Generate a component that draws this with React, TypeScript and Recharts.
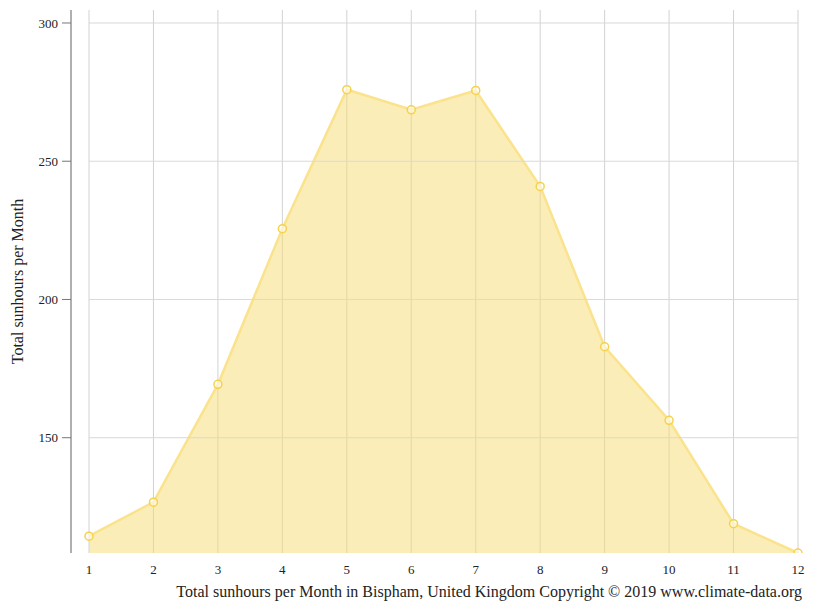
import React from "react";
import { AreaChart, Area, XAxis, YAxis, CartesianGrid, ReferenceLine, Label } from "recharts";

const months = [1, 2, 3, 4, 5, 6, 7, 8, 9, 10, 11, 12];
const sunhours = [114.4, 126.7, 169.3, 225.6, 275.9, 268.6, 275.6, 240.9, 182.9, 156.3, 118.9, 108.3];
const yTicks = [150, 200, 250, 300];
const yLabel = "Total sunhours per Month";
const caption = "Total sunhours per Month in Bispham, United Kingdom Copyright © 2019 www.climate-data.org";

const data = months.map((m, i) => ({ month: m, value: sunhours[i] }));

const FONT = "'Liberation Serif', 'Times New Roman', serif";

const YLabelContent = (props: any) => {
  const vb = props.viewBox || {};
  const cx = vb.x + 17;
  const cy = vb.y + vb.height / 2;
  return (
    <text
      x={cx}
      y={cy}
      transform={`rotate(-90, ${cx}, ${cy})`}
      textAnchor="middle"
      dominantBaseline="central"
      fontFamily={FONT}
      fontSize={16}
      fill="#222"
    >
      {yLabel}
    </text>
  );
};

export default function App() {
  return (
    <div style={{ position: "absolute", left: 0, top: 0, width: 815, height: 611, background: "#fff" }}>
      <AreaChart
        width={815}
        height={611}
        data={data}
        margin={{ top: 10, right: 17, bottom: 28, left: 0 }}
      >
        <CartesianGrid vertical={true} horizontal={false} stroke="#d2d2d2" />
        {yTicks.map((t) => (
          <ReferenceLine
            key={t}
            segment={[{ x: 1, y: t }, { x: 12, y: t }]}
            stroke="#d9d9d9"
            strokeWidth={1}
          />
        ))}
        <XAxis
          dataKey="month"
          type="number"
          domain={[1, 12]}
          ticks={months}
          padding={{ left: 18, right: 0 }}
          axisLine={false}
          tickLine={false}
          tickSize={4}
          tickMargin={8}
          height={30}
          tick={{ fontFamily: FONT, fontSize: 13, fill: "#222" }}
          interval={0}
        />
        <YAxis
          type="number"
          domain={[108.3, 304.7]}
          ticks={yTicks}
          allowDataOverflow
          width={71}
          axisLine={{ stroke: "#777" }}
          tickLine={{ stroke: "#777" }}
          tickSize={9}
          tickMargin={4}
          tick={{ fontFamily: FONT, fontSize: 13, fill: "#222" }}
        >
          <Label content={<YLabelContent />} />
        </YAxis>
        <Area
          type="linear"
          dataKey="value"
          stroke="#fae38c"
          strokeWidth={2.5}
          fill="#f7dc6f"
          fillOpacity={0.5}
          dot={{ r: 4, stroke: "#f5d24a", strokeWidth: 1.5, fill: "#fff" }}
          activeDot={false}
          isAnimationActive={false}
        />
      </AreaChart>
      <div
        style={{
          position: "absolute",
          right: 13,
          top: 582,
          fontFamily: FONT,
          fontSize: 16,
          color: "#222",
          whiteSpace: "nowrap",
          lineHeight: "20px",
        }}
      >
        {caption}
      </div>
    </div>
  );
}
